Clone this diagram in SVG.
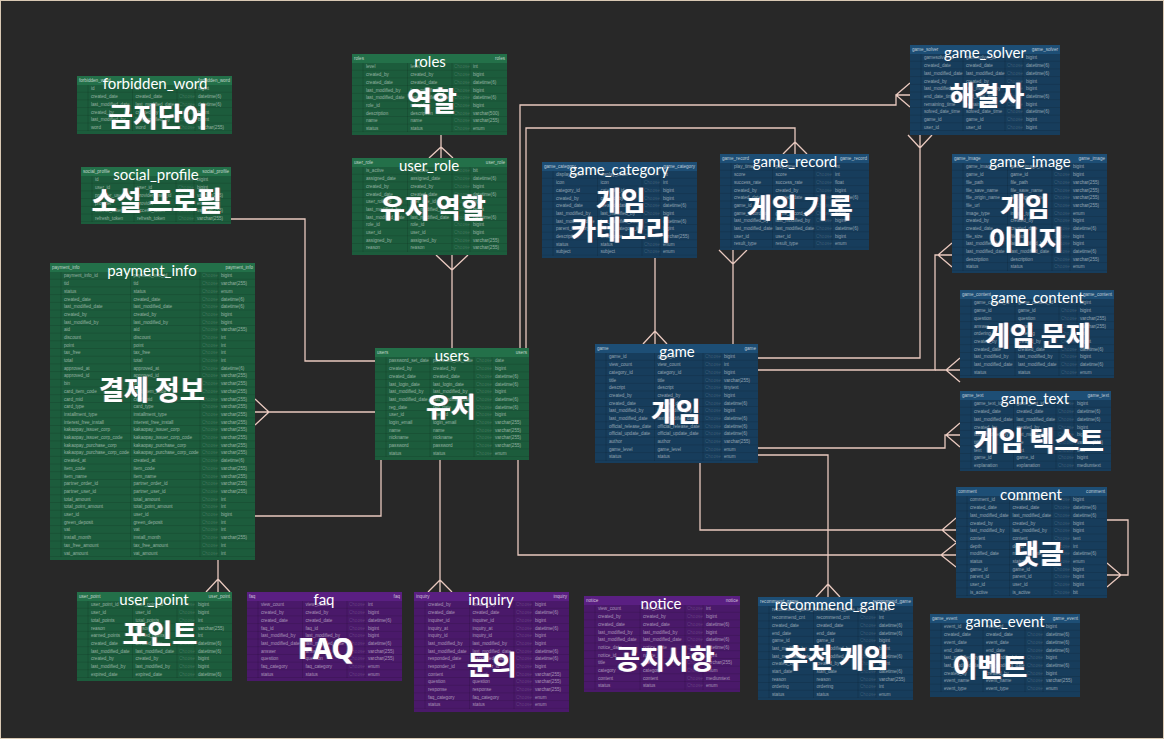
<svg xmlns="http://www.w3.org/2000/svg" xmlns:xlink="http://www.w3.org/1999/xlink" width="1164" height="739" viewBox="0 0 1164 739">
<defs>
<pattern id="rl" width="10" height="7.7" y="9" patternUnits="userSpaceOnUse"><rect y="7.2" width="10" height="0.5" fill="#000" fill-opacity="0.22"/></pattern>
<filter id="fr" x="-10%" y="-10%" width="120%" height="120%">
<feDropShadow dx="-0.8" dy="0" stdDeviation="0.3" flood-color="#38c8ff" flood-opacity="0.7" result="a"/>
<feDropShadow dx="0.8" dy="0" stdDeviation="0.3" flood-color="#ff6a3a" flood-opacity="0.7"/>
</filter>
<style>
.gt{fill:#1c5c3c}.gh{fill:#237049}
.bt{fill:#173d5c}.bh{fill:#1d4e75}
.pt{fill:#4a196a}.ph{fill:#5a1f82}
.rows{fill:url(#rl)}
.cols{stroke:#000;stroke-opacity:.22;stroke-width:.5;fill:none}
.n,.t,.c,.hd{font-family:"Liberation Sans",Arial,sans-serif;font-size:4.6px}
.n,.t{fill:#fff;fill-opacity:.5}
.c{fill:#fff;fill-opacity:.16}
.hd{fill:#fff;fill-opacity:.7}
.ti{font-family:Lato,"Noto Sans",sans-serif;font-size:15px;fill:#fff;text-anchor:middle}
.ko{font-family:"Noto Sans CJK KR","Noto Sans",sans-serif;font-weight:700;font-size:27px;fill:#fff;text-anchor:middle;filter:url(#fr)}
.cn{fill:none;stroke:#e9c9bf;stroke-width:1.3}
</style>
</defs>
<rect width="1164" height="739" fill="#282828"/>
<rect x="0.5" y="0.5" width="1163" height="738" fill="none" stroke="#d9c9b4" stroke-width="1"/>

<g id="connectors" class="cn">
<path d="M441 135V158M429 158L441 147L453 158"/>
<path d="M452 255V348M436 255L452 270L468 255"/>
<path d="M231 219H305V361H375"/>
<path d="M255 412H375M255 399L269 412L255 425"/>
<path d="M381 460V516H218V592M206 592L218 579L230 592"/>
<path d="M440 460V592M428 592L440 580L452 592"/>
<path d="M518 460V555H956M956 543L941 555L956 567"/>
<path d="M520 348V105H896V95H910M910 83L896 95L910 107"/>
<path d="M526 348V128H795V154M783 154L795 142L807 154"/>
<path d="M655 258V344M643 344L655 331L667 344"/>
<path d="M733 250V344M719 250L733 264L747 250"/>
<path d="M758 358H920V135M908 135L920 148L932 135"/>
<path d="M758 370H935V255H952M952 243L938 255L952 267"/>
<path d="M935 370H960M960 358L946 370L960 382"/>
<path d="M758 448H945V435H960M960 423L946 435L960 447"/>
<path d="M700 463V530H956M956 518L942 530L956 542"/>
<path d="M758 455H828V597M816 597L828 584L840 597"/>
<path d="M1107 520H1128V575H1107M1107 563L1121 575L1107 587"/>
</g>

<g id="forbidden_word" transform="translate(77,76)">
<rect class="gt" width="155" height="58"/><rect class="gh" width="155" height="9"/><rect class="rows" y="9" width="155" height="46.2"/>
<path class="cols" d="M11 9V55M55.5 9V55M100 9V55M118 9V55"/>
<text class="hd" x="2" y="6.3">forbidden_word</text><text class="hd" x="153" y="6.3" text-anchor="end">forbidden_word</text>
<text id="fw-n" class="n" y="6.7"><tspan x="14" dy="7.7">id</tspan><tspan x="14" dy="7.7">created_date</tspan><tspan x="14" dy="7.7">last_modified_date</tspan><tspan x="14" dy="7.7">created_by</tspan><tspan x="14" dy="7.7">last_modified_by</tspan><tspan x="14" dy="7.7">word</tspan></text>
<use href="#fw-n" x="44.5"/>
<text class="c" y="6.7"><tspan x="102" dy="7.7">Choose</tspan><tspan x="102" dy="7.7">Choose</tspan><tspan x="102" dy="7.7">Choose</tspan><tspan x="102" dy="7.7">Choose</tspan><tspan x="102" dy="7.7">Choose</tspan><tspan x="102" dy="7.7">Choose</tspan></text>
<text class="t" y="6.7"><tspan x="121" dy="7.7">bigint</tspan><tspan x="121" dy="7.7">datetime(6)</tspan><tspan x="121" dy="7.7">datetime(6)</tspan><tspan x="121" dy="7.7">bigint</tspan><tspan x="121" dy="7.7">bigint</tspan><tspan x="121" dy="7.7">varchar(255)</tspan></text>
<text class="ti" x="78" y="13">forbidden_word</text>
<text class="ko" x="81" y="50.5">금지단어</text>
</g>

<g id="social_profile" transform="translate(81,167)">
<rect class="gt" width="150" height="57"/><rect class="gh" width="150" height="9"/><rect class="rows" y="9" width="150" height="46.2"/>
<path class="cols" d="M11 9V55M53 9V55M95 9V55M113 9V55"/>
<text class="hd" x="2" y="6.3">social_profile</text><text class="hd" x="148" y="6.3" text-anchor="end">social_profile</text>
<text id="sp-n" class="n" y="6.7"><tspan x="14" dy="7.7">id</tspan><tspan x="14" dy="7.7">user_id</tspan><tspan x="14" dy="7.7">provider_user_id</tspan><tspan x="14" dy="7.7">provider</tspan><tspan x="14" dy="7.7">access_token</tspan><tspan x="14" dy="7.7">refresh_token</tspan></text>
<use href="#sp-n" x="42"/>
<text class="c" y="6.7"><tspan x="97" dy="7.7">Choose</tspan><tspan x="97" dy="7.7">Choose</tspan><tspan x="97" dy="7.7">Choose</tspan><tspan x="97" dy="7.7">Choose</tspan><tspan x="97" dy="7.7">Choose</tspan><tspan x="97" dy="7.7">Choose</tspan></text>
<text class="t" y="6.7"><tspan x="116" dy="7.7">bigint</tspan><tspan x="116" dy="7.7">bigint</tspan><tspan x="116" dy="7.7">varchar(255)</tspan><tspan x="116" dy="7.7">enum</tspan><tspan x="116" dy="7.7">varchar(255)</tspan><tspan x="116" dy="7.7">varchar(255)</tspan></text>
<text class="ti" x="75" y="12.5">social_profile</text>
<text class="ko" x="76" y="43.5">소설 프로필</text>
</g>

<g id="roles" transform="translate(352,54)">
<rect class="gt" width="155" height="81"/><rect class="gh" width="155" height="9"/><rect class="rows" y="9" width="155" height="69.3"/>
<path class="cols" d="M11 9V78M55.5 9V78M100 9V78M118 9V78"/>
<text class="hd" x="2" y="6.3">roles</text><text class="hd" x="153" y="6.3" text-anchor="end">roles</text>
<text id="ro-n" class="n" y="6.7"><tspan x="14" dy="7.7">level</tspan><tspan x="14" dy="7.7">created_by</tspan><tspan x="14" dy="7.7">created_date</tspan><tspan x="14" dy="7.7">last_modified_by</tspan><tspan x="14" dy="7.7">last_modified_date</tspan><tspan x="14" dy="7.7">role_id</tspan><tspan x="14" dy="7.7">description</tspan><tspan x="14" dy="7.7">name</tspan><tspan x="14" dy="7.7">status</tspan></text>
<use href="#ro-n" x="44.5"/>
<text class="c" y="6.7"><tspan x="102" dy="7.7">Choose</tspan><tspan x="102" dy="7.7">Choose</tspan><tspan x="102" dy="7.7">Choose</tspan><tspan x="102" dy="7.7">Choose</tspan><tspan x="102" dy="7.7">Choose</tspan><tspan x="102" dy="7.7">Choose</tspan><tspan x="102" dy="7.7">Choose</tspan><tspan x="102" dy="7.7">Choose</tspan><tspan x="102" dy="7.7">Choose</tspan></text>
<text class="t" y="6.7"><tspan x="121" dy="7.7">int</tspan><tspan x="121" dy="7.7">bigint</tspan><tspan x="121" dy="7.7">datetime(6)</tspan><tspan x="121" dy="7.7">bigint</tspan><tspan x="121" dy="7.7">datetime(6)</tspan><tspan x="121" dy="7.7">bigint</tspan><tspan x="121" dy="7.7">varchar(500)</tspan><tspan x="121" dy="7.7">varchar(255)</tspan><tspan x="121" dy="7.7">enum</tspan></text>
<text class="ti" x="78" y="12.5">roles</text>
<text class="ko" x="80" y="56.5">역할</text>
</g>

<g id="user_role" transform="translate(352,158)">
<rect class="gt" width="155" height="97"/><rect class="gh" width="155" height="9"/><rect class="rows" y="9" width="155" height="84.7"/>
<path class="cols" d="M11 9V94M55.5 9V94M100 9V94M118 9V94"/>
<text class="hd" x="2" y="6.3">user_role</text><text class="hd" x="153" y="6.3" text-anchor="end">user_role</text>
<text id="ur-n" class="n" y="6.7"><tspan x="14" dy="7.7">is_active</tspan><tspan x="14" dy="7.7">assigned_date</tspan><tspan x="14" dy="7.7">created_by</tspan><tspan x="14" dy="7.7">created_date</tspan><tspan x="14" dy="7.7">user_role_id</tspan><tspan x="14" dy="7.7">last_modified_by</tspan><tspan x="14" dy="7.7">last_modified_date</tspan><tspan x="14" dy="7.7">role_id</tspan><tspan x="14" dy="7.7">user_id</tspan><tspan x="14" dy="7.7">assigned_by</tspan><tspan x="14" dy="7.7">reason</tspan></text>
<use href="#ur-n" x="44.5"/>
<text class="c" y="6.7"><tspan x="102" dy="7.7">Choose</tspan><tspan x="102" dy="7.7">Choose</tspan><tspan x="102" dy="7.7">Choose</tspan><tspan x="102" dy="7.7">Choose</tspan><tspan x="102" dy="7.7">Choose</tspan><tspan x="102" dy="7.7">Choose</tspan><tspan x="102" dy="7.7">Choose</tspan><tspan x="102" dy="7.7">Choose</tspan><tspan x="102" dy="7.7">Choose</tspan><tspan x="102" dy="7.7">Choose</tspan><tspan x="102" dy="7.7">Choose</tspan></text>
<text class="t" y="6.7"><tspan x="121" dy="7.7">bit</tspan><tspan x="121" dy="7.7">datetime(6)</tspan><tspan x="121" dy="7.7">bigint</tspan><tspan x="121" dy="7.7">datetime(6)</tspan><tspan x="121" dy="7.7">bigint</tspan><tspan x="121" dy="7.7">bigint</tspan><tspan x="121" dy="7.7">datetime(6)</tspan><tspan x="121" dy="7.7">bigint</tspan><tspan x="121" dy="7.7">bigint</tspan><tspan x="121" dy="7.7">varchar(255)</tspan><tspan x="121" dy="7.7">varchar(255)</tspan></text>
<text class="ti" x="77" y="12.5">user_role</text>
<text class="ko" x="81" y="59.5">유저 역할</text>
</g>

<g id="payment_info" transform="translate(50,263)">
<rect class="gt" width="205" height="297"/><rect class="gh" width="205" height="9"/><rect class="rows" y="9" width="205" height="284.9"/>
<path class="cols" d="M11 9V294M80.5 9V294M150 9V294M168 9V294"/>
<text class="hd" x="2" y="6.3">payment_info</text><text class="hd" x="203" y="6.3" text-anchor="end">payment_info</text>
<text id="pi-n" class="n" y="6.7"><tspan x="14" dy="7.7">payment_info_id</tspan><tspan x="14" dy="7.7">tid</tspan><tspan x="14" dy="7.7">status</tspan><tspan x="14" dy="7.7">created_date</tspan><tspan x="14" dy="7.7">last_modified_date</tspan><tspan x="14" dy="7.7">created_by</tspan><tspan x="14" dy="7.7">last_modified_by</tspan><tspan x="14" dy="7.7">aid</tspan><tspan x="14" dy="7.7">discount</tspan><tspan x="14" dy="7.7">point</tspan><tspan x="14" dy="7.7">tax_free</tspan><tspan x="14" dy="7.7">total</tspan><tspan x="14" dy="7.7">approved_at</tspan><tspan x="14" dy="7.7">approved_id</tspan><tspan x="14" dy="7.7">bin</tspan><tspan x="14" dy="7.7">card_item_code</tspan><tspan x="14" dy="7.7">card_mid</tspan><tspan x="14" dy="7.7">card_type</tspan><tspan x="14" dy="7.7">installment_type</tspan><tspan x="14" dy="7.7">interest_free_install</tspan><tspan x="14" dy="7.7">kakaopay_issuer_corp</tspan><tspan x="14" dy="7.7">kakaopay_issuer_corp_code</tspan><tspan x="14" dy="7.7">kakaopay_purchase_corp</tspan><tspan x="14" dy="7.7">kakaopay_purchase_corp_code</tspan><tspan x="14" dy="7.7">created_at</tspan><tspan x="14" dy="7.7">item_code</tspan><tspan x="14" dy="7.7">item_name</tspan><tspan x="14" dy="7.7">partner_order_id</tspan><tspan x="14" dy="7.7">partner_user_id</tspan><tspan x="14" dy="7.7">total_amount</tspan><tspan x="14" dy="7.7">total_point_amount</tspan><tspan x="14" dy="7.7">user_id</tspan><tspan x="14" dy="7.7">green_deposit</tspan><tspan x="14" dy="7.7">vat</tspan><tspan x="14" dy="7.7">install_month</tspan><tspan x="14" dy="7.7">tax_free_amount</tspan><tspan x="14" dy="7.7">vat_amount</tspan></text>
<use href="#pi-n" x="69.5"/>
<text class="c" y="6.7"><tspan x="152" dy="7.7">Choose</tspan><tspan x="152" dy="7.7">Choose</tspan><tspan x="152" dy="7.7">Choose</tspan><tspan x="152" dy="7.7">Choose</tspan><tspan x="152" dy="7.7">Choose</tspan><tspan x="152" dy="7.7">Choose</tspan><tspan x="152" dy="7.7">Choose</tspan><tspan x="152" dy="7.7">Choose</tspan><tspan x="152" dy="7.7">Choose</tspan><tspan x="152" dy="7.7">Choose</tspan><tspan x="152" dy="7.7">Choose</tspan><tspan x="152" dy="7.7">Choose</tspan><tspan x="152" dy="7.7">Choose</tspan><tspan x="152" dy="7.7">Choose</tspan><tspan x="152" dy="7.7">Choose</tspan><tspan x="152" dy="7.7">Choose</tspan><tspan x="152" dy="7.7">Choose</tspan><tspan x="152" dy="7.7">Choose</tspan><tspan x="152" dy="7.7">Choose</tspan><tspan x="152" dy="7.7">Choose</tspan><tspan x="152" dy="7.7">Choose</tspan><tspan x="152" dy="7.7">Choose</tspan><tspan x="152" dy="7.7">Choose</tspan><tspan x="152" dy="7.7">Choose</tspan><tspan x="152" dy="7.7">Choose</tspan><tspan x="152" dy="7.7">Choose</tspan><tspan x="152" dy="7.7">Choose</tspan><tspan x="152" dy="7.7">Choose</tspan><tspan x="152" dy="7.7">Choose</tspan><tspan x="152" dy="7.7">Choose</tspan><tspan x="152" dy="7.7">Choose</tspan><tspan x="152" dy="7.7">Choose</tspan><tspan x="152" dy="7.7">Choose</tspan><tspan x="152" dy="7.7">Choose</tspan><tspan x="152" dy="7.7">Choose</tspan><tspan x="152" dy="7.7">Choose</tspan><tspan x="152" dy="7.7">Choose</tspan></text>
<text class="t" y="6.7"><tspan x="171" dy="7.7">bigint</tspan><tspan x="171" dy="7.7">varchar(255)</tspan><tspan x="171" dy="7.7">enum</tspan><tspan x="171" dy="7.7">datetime(6)</tspan><tspan x="171" dy="7.7">datetime(6)</tspan><tspan x="171" dy="7.7">bigint</tspan><tspan x="171" dy="7.7">bigint</tspan><tspan x="171" dy="7.7">varchar(255)</tspan><tspan x="171" dy="7.7">int</tspan><tspan x="171" dy="7.7">int</tspan><tspan x="171" dy="7.7">int</tspan><tspan x="171" dy="7.7">int</tspan><tspan x="171" dy="7.7">datetime(6)</tspan><tspan x="171" dy="7.7">varchar(255)</tspan><tspan x="171" dy="7.7">varchar(255)</tspan><tspan x="171" dy="7.7">varchar(255)</tspan><tspan x="171" dy="7.7">varchar(255)</tspan><tspan x="171" dy="7.7">varchar(255)</tspan><tspan x="171" dy="7.7">varchar(255)</tspan><tspan x="171" dy="7.7">varchar(255)</tspan><tspan x="171" dy="7.7">varchar(255)</tspan><tspan x="171" dy="7.7">varchar(255)</tspan><tspan x="171" dy="7.7">varchar(255)</tspan><tspan x="171" dy="7.7">varchar(255)</tspan><tspan x="171" dy="7.7">datetime(6)</tspan><tspan x="171" dy="7.7">varchar(255)</tspan><tspan x="171" dy="7.7">varchar(255)</tspan><tspan x="171" dy="7.7">varchar(255)</tspan><tspan x="171" dy="7.7">varchar(255)</tspan><tspan x="171" dy="7.7">int</tspan><tspan x="171" dy="7.7">int</tspan><tspan x="171" dy="7.7">bigint</tspan><tspan x="171" dy="7.7">int</tspan><tspan x="171" dy="7.7">int</tspan><tspan x="171" dy="7.7">varchar(255)</tspan><tspan x="171" dy="7.7">int</tspan><tspan x="171" dy="7.7">int</tspan></text>
<text class="ti" x="102" y="12.5">payment_info</text>
<text class="ko" x="102" y="136.5">결제 정보</text>
</g>

<g id="users" transform="translate(375,348)">
<rect class="gt" width="154" height="112"/><rect class="gh" width="154" height="9"/><rect class="rows" y="9" width="154" height="100.1"/>
<path class="cols" d="M11 9V109M55 9V109M99 9V109M117 9V109"/>
<text class="hd" x="2" y="6.3">users</text><text class="hd" x="152" y="6.3" text-anchor="end">users</text>
<text id="us-n" class="n" y="6.7"><tspan x="14" dy="7.7">password_set_date</tspan><tspan x="14" dy="7.7">created_by</tspan><tspan x="14" dy="7.7">created_date</tspan><tspan x="14" dy="7.7">last_login_date</tspan><tspan x="14" dy="7.7">last_modified_by</tspan><tspan x="14" dy="7.7">last_modified_date</tspan><tspan x="14" dy="7.7">reg_date</tspan><tspan x="14" dy="7.7">user_id</tspan><tspan x="14" dy="7.7">login_email</tspan><tspan x="14" dy="7.7">name</tspan><tspan x="14" dy="7.7">nickname</tspan><tspan x="14" dy="7.7">password</tspan><tspan x="14" dy="7.7">status</tspan></text>
<use href="#us-n" x="44"/>
<text class="c" y="6.7"><tspan x="101" dy="7.7">Choose</tspan><tspan x="101" dy="7.7">Choose</tspan><tspan x="101" dy="7.7">Choose</tspan><tspan x="101" dy="7.7">Choose</tspan><tspan x="101" dy="7.7">Choose</tspan><tspan x="101" dy="7.7">Choose</tspan><tspan x="101" dy="7.7">Choose</tspan><tspan x="101" dy="7.7">Choose</tspan><tspan x="101" dy="7.7">Choose</tspan><tspan x="101" dy="7.7">Choose</tspan><tspan x="101" dy="7.7">Choose</tspan><tspan x="101" dy="7.7">Choose</tspan><tspan x="101" dy="7.7">Choose</tspan></text>
<text class="t" y="6.7"><tspan x="120" dy="7.7">date</tspan><tspan x="120" dy="7.7">bigint</tspan><tspan x="120" dy="7.7">datetime(6)</tspan><tspan x="120" dy="7.7">datetime(6)</tspan><tspan x="120" dy="7.7">bigint</tspan><tspan x="120" dy="7.7">datetime(6)</tspan><tspan x="120" dy="7.7">datetime(6)</tspan><tspan x="120" dy="7.7">bigint</tspan><tspan x="120" dy="7.7">varchar(255)</tspan><tspan x="120" dy="7.7">varchar(255)</tspan><tspan x="120" dy="7.7">varchar(255)</tspan><tspan x="120" dy="7.7">varchar(255)</tspan><tspan x="120" dy="7.7">enum</tspan></text>
<text class="ti" x="77" y="12.5">users</text>
<text class="ko" x="76" y="68.5">유저</text>
</g>

<g id="user_point" transform="translate(77,592)">
<rect class="gt" width="155" height="89"/><rect class="gh" width="155" height="9"/><rect class="rows" y="9" width="155" height="77"/>
<path class="cols" d="M11 9V86M55.5 9V86M100 9V86M118 9V86"/>
<text class="hd" x="2" y="6.3">user_point</text><text class="hd" x="153" y="6.3" text-anchor="end">user_point</text>
<text id="up-n" class="n" y="6.7"><tspan x="14" dy="7.7">user_point_id</tspan><tspan x="14" dy="7.7">user_id</tspan><tspan x="14" dy="7.7">total_points</tspan><tspan x="14" dy="7.7">reason</tspan><tspan x="14" dy="7.7">earned_points</tspan><tspan x="14" dy="7.7">created_date</tspan><tspan x="14" dy="7.7">last_modified_date</tspan><tspan x="14" dy="7.7">created_by</tspan><tspan x="14" dy="7.7">last_modified_by</tspan><tspan x="14" dy="7.7">expired_date</tspan></text>
<use href="#up-n" x="44.5"/>
<text class="c" y="6.7"><tspan x="102" dy="7.7">Choose</tspan><tspan x="102" dy="7.7">Choose</tspan><tspan x="102" dy="7.7">Choose</tspan><tspan x="102" dy="7.7">Choose</tspan><tspan x="102" dy="7.7">Choose</tspan><tspan x="102" dy="7.7">Choose</tspan><tspan x="102" dy="7.7">Choose</tspan><tspan x="102" dy="7.7">Choose</tspan><tspan x="102" dy="7.7">Choose</tspan><tspan x="102" dy="7.7">Choose</tspan></text>
<text class="t" y="6.7"><tspan x="121" dy="7.7">bigint</tspan><tspan x="121" dy="7.7">bigint</tspan><tspan x="121" dy="7.7">int</tspan><tspan x="121" dy="7.7">varchar(255)</tspan><tspan x="121" dy="7.7">int</tspan><tspan x="121" dy="7.7">datetime(6)</tspan><tspan x="121" dy="7.7">datetime(6)</tspan><tspan x="121" dy="7.7">bigint</tspan><tspan x="121" dy="7.7">bigint</tspan><tspan x="121" dy="7.7">datetime(6)</tspan></text>
<text class="ti" x="77" y="12.5">user_point</text>
<text class="ko" x="83" y="51.5">포인트</text>
</g>

<g id="faq" transform="translate(247,592)">
<rect class="pt" width="155" height="89"/><rect class="ph" width="155" height="9"/><rect class="rows" y="9" width="155" height="77"/>
<path class="cols" d="M11 9V86M55.5 9V86M100 9V86M118 9V86"/>
<text class="hd" x="2" y="6.3">faq</text><text class="hd" x="153" y="6.3" text-anchor="end">faq</text>
<text id="fq-n" class="n" y="6.7"><tspan x="14" dy="7.7">view_count</tspan><tspan x="14" dy="7.7">created_by</tspan><tspan x="14" dy="7.7">created_date</tspan><tspan x="14" dy="7.7">faq_id</tspan><tspan x="14" dy="7.7">last_modified_by</tspan><tspan x="14" dy="7.7">last_modified_date</tspan><tspan x="14" dy="7.7">answer</tspan><tspan x="14" dy="7.7">question</tspan><tspan x="14" dy="7.7">faq_category</tspan><tspan x="14" dy="7.7">status</tspan></text>
<use href="#fq-n" x="44.5"/>
<text class="c" y="6.7"><tspan x="102" dy="7.7">Choose</tspan><tspan x="102" dy="7.7">Choose</tspan><tspan x="102" dy="7.7">Choose</tspan><tspan x="102" dy="7.7">Choose</tspan><tspan x="102" dy="7.7">Choose</tspan><tspan x="102" dy="7.7">Choose</tspan><tspan x="102" dy="7.7">Choose</tspan><tspan x="102" dy="7.7">Choose</tspan><tspan x="102" dy="7.7">Choose</tspan><tspan x="102" dy="7.7">Choose</tspan></text>
<text class="t" y="6.7"><tspan x="121" dy="7.7">int</tspan><tspan x="121" dy="7.7">bigint</tspan><tspan x="121" dy="7.7">datetime(6)</tspan><tspan x="121" dy="7.7">bigint</tspan><tspan x="121" dy="7.7">bigint</tspan><tspan x="121" dy="7.7">datetime(6)</tspan><tspan x="121" dy="7.7">varchar(255)</tspan><tspan x="121" dy="7.7">varchar(255)</tspan><tspan x="121" dy="7.7">enum</tspan><tspan x="121" dy="7.7">enum</tspan></text>
<text class="ti" x="77" y="12.5">faq</text>
<text class="ko" x="79" y="67" style="font-family:'Noto Sans',sans-serif;font-size:28px">FAQ</text>
</g>

<g id="inquiry" transform="translate(414,592)">
<rect class="pt" width="155" height="120"/><rect class="ph" width="155" height="9"/><rect class="rows" y="9" width="155" height="107.8"/>
<path class="cols" d="M11 9V117M55.5 9V117M100 9V117M118 9V117"/>
<text class="hd" x="2" y="6.3">inquiry</text><text class="hd" x="153" y="6.3" text-anchor="end">inquiry</text>
<text id="iq-n" class="n" y="6.7"><tspan x="14" dy="7.7">created_by</tspan><tspan x="14" dy="7.7">created_date</tspan><tspan x="14" dy="7.7">inquirer_id</tspan><tspan x="14" dy="7.7">inquiry_at</tspan><tspan x="14" dy="7.7">inquiry_id</tspan><tspan x="14" dy="7.7">last_modified_by</tspan><tspan x="14" dy="7.7">last_modified_date</tspan><tspan x="14" dy="7.7">responded_date</tspan><tspan x="14" dy="7.7">responder_id</tspan><tspan x="14" dy="7.7">content</tspan><tspan x="14" dy="7.7">question</tspan><tspan x="14" dy="7.7">response</tspan><tspan x="14" dy="7.7">faq_category</tspan><tspan x="14" dy="7.7">status</tspan></text>
<use href="#iq-n" x="44.5"/>
<text class="c" y="6.7"><tspan x="102" dy="7.7">Choose</tspan><tspan x="102" dy="7.7">Choose</tspan><tspan x="102" dy="7.7">Choose</tspan><tspan x="102" dy="7.7">Choose</tspan><tspan x="102" dy="7.7">Choose</tspan><tspan x="102" dy="7.7">Choose</tspan><tspan x="102" dy="7.7">Choose</tspan><tspan x="102" dy="7.7">Choose</tspan><tspan x="102" dy="7.7">Choose</tspan><tspan x="102" dy="7.7">Choose</tspan><tspan x="102" dy="7.7">Choose</tspan><tspan x="102" dy="7.7">Choose</tspan><tspan x="102" dy="7.7">Choose</tspan><tspan x="102" dy="7.7">Choose</tspan></text>
<text class="t" y="6.7"><tspan x="121" dy="7.7">bigint</tspan><tspan x="121" dy="7.7">datetime(6)</tspan><tspan x="121" dy="7.7">bigint</tspan><tspan x="121" dy="7.7">datetime(6)</tspan><tspan x="121" dy="7.7">bigint</tspan><tspan x="121" dy="7.7">bigint</tspan><tspan x="121" dy="7.7">datetime(6)</tspan><tspan x="121" dy="7.7">datetime(6)</tspan><tspan x="121" dy="7.7">bigint</tspan><tspan x="121" dy="7.7">varchar(255)</tspan><tspan x="121" dy="7.7">varchar(255)</tspan><tspan x="121" dy="7.7">varchar(255)</tspan><tspan x="121" dy="7.7">enum</tspan><tspan x="121" dy="7.7">enum</tspan></text>
<text class="ti" x="77" y="12.5">inquiry</text>
<text class="ko" x="78" y="82.5">문의</text>
</g>

<g id="notice" transform="translate(584,596)">
<rect class="pt" width="156" height="96"/><rect class="ph" width="156" height="9"/><rect class="rows" y="9" width="156" height="84.7"/>
<path class="cols" d="M11 9V94M56 9V94M101 9V94M119 9V94"/>
<text class="hd" x="2" y="6.3">notice</text><text class="hd" x="154" y="6.3" text-anchor="end">notice</text>
<text id="no-n" class="n" y="6.7"><tspan x="14" dy="7.7">view_count</tspan><tspan x="14" dy="7.7">created_by</tspan><tspan x="14" dy="7.7">created_date</tspan><tspan x="14" dy="7.7">last_modified_by</tspan><tspan x="14" dy="7.7">last_modified_date</tspan><tspan x="14" dy="7.7">notice_date</tspan><tspan x="14" dy="7.7">notice_id</tspan><tspan x="14" dy="7.7">title</tspan><tspan x="14" dy="7.7">category</tspan><tspan x="14" dy="7.7">content</tspan><tspan x="14" dy="7.7">status</tspan></text>
<use href="#no-n" x="45"/>
<text class="c" y="6.7"><tspan x="103" dy="7.7">Choose</tspan><tspan x="103" dy="7.7">Choose</tspan><tspan x="103" dy="7.7">Choose</tspan><tspan x="103" dy="7.7">Choose</tspan><tspan x="103" dy="7.7">Choose</tspan><tspan x="103" dy="7.7">Choose</tspan><tspan x="103" dy="7.7">Choose</tspan><tspan x="103" dy="7.7">Choose</tspan><tspan x="103" dy="7.7">Choose</tspan><tspan x="103" dy="7.7">Choose</tspan><tspan x="103" dy="7.7">Choose</tspan></text>
<text class="t" y="6.7"><tspan x="122" dy="7.7">int</tspan><tspan x="122" dy="7.7">bigint</tspan><tspan x="122" dy="7.7">datetime(6)</tspan><tspan x="122" dy="7.7">bigint</tspan><tspan x="122" dy="7.7">datetime(6)</tspan><tspan x="122" dy="7.7">datetime(6)</tspan><tspan x="122" dy="7.7">bigint</tspan><tspan x="122" dy="7.7">varchar(255)</tspan><tspan x="122" dy="7.7">enum</tspan><tspan x="122" dy="7.7">mediumtext</tspan><tspan x="122" dy="7.7">enum</tspan></text>
<text class="ti" x="77" y="12.5">notice</text>
<text class="ko" x="81" y="72.5">공지사항</text>
</g>

<g id="recommend_game" transform="translate(758,597)">
<rect class="bt" width="155" height="103"/><rect class="bh" width="155" height="9"/><rect class="rows" y="9" width="155" height="92.4"/>
<path class="cols" d="M11 9V101M55.5 9V101M100 9V101M118 9V101"/>
<text class="hd" x="2" y="6.3">recommend_game</text><text class="hd" x="153" y="6.3" text-anchor="end">recommend_game</text>
<text id="rg-n" class="n" y="6.7"><tspan x="14" dy="7.7">recommend_game_id</tspan><tspan x="14" dy="7.7">recommend_cnt</tspan><tspan x="14" dy="7.7">created_date</tspan><tspan x="14" dy="7.7">end_date</tspan><tspan x="14" dy="7.7">game_id</tspan><tspan x="14" dy="7.7">last_modified_by</tspan><tspan x="14" dy="7.7">last_modified_date</tspan><tspan x="14" dy="7.7">created_by</tspan><tspan x="14" dy="7.7">start_date</tspan><tspan x="14" dy="7.7">reason</tspan><tspan x="14" dy="7.7">ordering</tspan><tspan x="14" dy="7.7">status</tspan></text>
<use href="#rg-n" x="44.5"/>
<text class="c" y="6.7"><tspan x="102" dy="7.7">Choose</tspan><tspan x="102" dy="7.7">Choose</tspan><tspan x="102" dy="7.7">Choose</tspan><tspan x="102" dy="7.7">Choose</tspan><tspan x="102" dy="7.7">Choose</tspan><tspan x="102" dy="7.7">Choose</tspan><tspan x="102" dy="7.7">Choose</tspan><tspan x="102" dy="7.7">Choose</tspan><tspan x="102" dy="7.7">Choose</tspan><tspan x="102" dy="7.7">Choose</tspan><tspan x="102" dy="7.7">Choose</tspan><tspan x="102" dy="7.7">Choose</tspan></text>
<text class="t" y="6.7"><tspan x="121" dy="7.7">bigint</tspan><tspan x="121" dy="7.7">int</tspan><tspan x="121" dy="7.7">datetime(6)</tspan><tspan x="121" dy="7.7">datetime(6)</tspan><tspan x="121" dy="7.7">bigint</tspan><tspan x="121" dy="7.7">bigint</tspan><tspan x="121" dy="7.7">datetime(6)</tspan><tspan x="121" dy="7.7">bigint</tspan><tspan x="121" dy="7.7">datetime(6)</tspan><tspan x="121" dy="7.7">varchar(255)</tspan><tspan x="121" dy="7.7">int</tspan><tspan x="121" dy="7.7">enum</tspan></text>
<text class="ti" x="77" y="12.5">recommend_game</text>
<text class="ko" x="78" y="70.5">추천 게임</text>
</g>

<g id="game_event" transform="translate(930,614)">
<rect class="bt" width="150" height="83"/><rect class="bh" width="150" height="9"/><rect class="rows" y="9" width="150" height="69.3"/>
<path class="cols" d="M11 9V78M53 9V78M95 9V78M113 9V78"/>
<text class="hd" x="2" y="6.3">game_event</text><text class="hd" x="148" y="6.3" text-anchor="end">game_event</text>
<text id="ge-n" class="n" y="6.7"><tspan x="14" dy="7.7">event_id</tspan><tspan x="14" dy="7.7">created_date</tspan><tspan x="14" dy="7.7">event_date</tspan><tspan x="14" dy="7.7">end_date</tspan><tspan x="14" dy="7.7">last_modified_by</tspan><tspan x="14" dy="7.7">last_modified_date</tspan><tspan x="14" dy="7.7">created_by</tspan><tspan x="14" dy="7.7">event_name</tspan><tspan x="14" dy="7.7">event_type</tspan></text>
<use href="#ge-n" x="42"/>
<text class="c" y="6.7"><tspan x="97" dy="7.7">Choose</tspan><tspan x="97" dy="7.7">Choose</tspan><tspan x="97" dy="7.7">Choose</tspan><tspan x="97" dy="7.7">Choose</tspan><tspan x="97" dy="7.7">Choose</tspan><tspan x="97" dy="7.7">Choose</tspan><tspan x="97" dy="7.7">Choose</tspan><tspan x="97" dy="7.7">Choose</tspan><tspan x="97" dy="7.7">Choose</tspan></text>
<text class="t" y="6.7"><tspan x="116" dy="7.7">bigint</tspan><tspan x="116" dy="7.7">datetime(6)</tspan><tspan x="116" dy="7.7">datetime(6)</tspan><tspan x="116" dy="7.7">datetime(6)</tspan><tspan x="116" dy="7.7">bigint</tspan><tspan x="116" dy="7.7">datetime(6)</tspan><tspan x="116" dy="7.7">bigint</tspan><tspan x="116" dy="7.7">varchar(255)</tspan><tspan x="116" dy="7.7">enum</tspan></text>
<text class="ti" x="75" y="12.5">game_event</text>
<text class="ko" x="60" y="62.5">이벤트</text>
</g>

<g id="game_category" transform="translate(542,162)">
<rect class="bt" width="155" height="96"/><rect class="bh" width="155" height="9"/><rect class="rows" y="9" width="155" height="84.7"/>
<path class="cols" d="M11 9V94M55.5 9V94M100 9V94M118 9V94"/>
<text class="hd" x="2" y="6.3">game_category</text><text class="hd" x="153" y="6.3" text-anchor="end">game_category</text>
<text id="gc-n" class="n" y="6.7"><tspan x="14" dy="7.7">display_order</tspan><tspan x="14" dy="7.7">icon</tspan><tspan x="14" dy="7.7">category_id</tspan><tspan x="14" dy="7.7">created_by</tspan><tspan x="14" dy="7.7">created_date</tspan><tspan x="14" dy="7.7">last_modified_by</tspan><tspan x="14" dy="7.7">last_modified_date</tspan><tspan x="14" dy="7.7">parent_category_id</tspan><tspan x="14" dy="7.7">description</tspan><tspan x="14" dy="7.7">status</tspan><tspan x="14" dy="7.7">subject</tspan></text>
<use href="#gc-n" x="44.5"/>
<text class="c" y="6.7"><tspan x="102" dy="7.7">Choose</tspan><tspan x="102" dy="7.7">Choose</tspan><tspan x="102" dy="7.7">Choose</tspan><tspan x="102" dy="7.7">Choose</tspan><tspan x="102" dy="7.7">Choose</tspan><tspan x="102" dy="7.7">Choose</tspan><tspan x="102" dy="7.7">Choose</tspan><tspan x="102" dy="7.7">Choose</tspan><tspan x="102" dy="7.7">Choose</tspan><tspan x="102" dy="7.7">Choose</tspan><tspan x="102" dy="7.7">Choose</tspan></text>
<text class="t" y="6.7"><tspan x="121" dy="7.7">int</tspan><tspan x="121" dy="7.7">int</tspan><tspan x="121" dy="7.7">bigint</tspan><tspan x="121" dy="7.7">bigint</tspan><tspan x="121" dy="7.7">datetime(6)</tspan><tspan x="121" dy="7.7">bigint</tspan><tspan x="121" dy="7.7">datetime(6)</tspan><tspan x="121" dy="7.7">bigint</tspan><tspan x="121" dy="7.7">varchar(255)</tspan><tspan x="121" dy="7.7">enum</tspan><tspan x="121" dy="7.7">enum</tspan></text>
<text class="ti" x="77" y="12.5">game_category</text>
<text class="ko" x="79" y="48.5">게임</text>
<text class="ko" x="79" y="77.5">카테고리</text>
</g>

<g id="game_record" transform="translate(720,154)">
<rect class="bt" width="149" height="96"/><rect class="bh" width="149" height="9"/><rect class="rows" y="9" width="149" height="84.7"/>
<path class="cols" d="M11 9V94M52.5 9V94M94 9V94M112 9V94"/>
<text class="hd" x="2" y="6.3">game_record</text><text class="hd" x="147" y="6.3" text-anchor="end">game_record</text>
<text id="gr-n" class="n" y="6.7"><tspan x="14" dy="7.7">play_time</tspan><tspan x="14" dy="7.7">score</tspan><tspan x="14" dy="7.7">success_rate</tspan><tspan x="14" dy="7.7">created_by</tspan><tspan x="14" dy="7.7">created_date</tspan><tspan x="14" dy="7.7">game_id</tspan><tspan x="14" dy="7.7">game_record_id</tspan><tspan x="14" dy="7.7">last_modified_by</tspan><tspan x="14" dy="7.7">last_modified_date</tspan><tspan x="14" dy="7.7">user_id</tspan><tspan x="14" dy="7.7">result_type</tspan></text>
<use href="#gr-n" x="41.5"/>
<text class="c" y="6.7"><tspan x="96" dy="7.7">Choose</tspan><tspan x="96" dy="7.7">Choose</tspan><tspan x="96" dy="7.7">Choose</tspan><tspan x="96" dy="7.7">Choose</tspan><tspan x="96" dy="7.7">Choose</tspan><tspan x="96" dy="7.7">Choose</tspan><tspan x="96" dy="7.7">Choose</tspan><tspan x="96" dy="7.7">Choose</tspan><tspan x="96" dy="7.7">Choose</tspan><tspan x="96" dy="7.7">Choose</tspan><tspan x="96" dy="7.7">Choose</tspan></text>
<text class="t" y="6.7"><tspan x="115" dy="7.7">int</tspan><tspan x="115" dy="7.7">int</tspan><tspan x="115" dy="7.7">float</tspan><tspan x="115" dy="7.7">bigint</tspan><tspan x="115" dy="7.7">datetime(6)</tspan><tspan x="115" dy="7.7">bigint</tspan><tspan x="115" dy="7.7">bigint</tspan><tspan x="115" dy="7.7">bigint</tspan><tspan x="115" dy="7.7">datetime(6)</tspan><tspan x="115" dy="7.7">bigint</tspan><tspan x="115" dy="7.7">enum</tspan></text>
<text class="ti" x="75" y="12.5">game_record</text>
<text class="ko" x="80" y="63.5">게임 기록</text>
</g>

<g id="game_solver" transform="translate(910,45)">
<rect class="bt" width="150" height="90"/><rect class="bh" width="150" height="9"/><rect class="rows" y="9" width="150" height="77"/>
<path class="cols" d="M11 9V86M53 9V86M95 9V86M113 9V86"/>
<text class="hd" x="2" y="6.3">game_solver</text><text class="hd" x="148" y="6.3" text-anchor="end">game_solver</text>
<text id="gs-n" class="n" y="6.7"><tspan x="14" dy="7.7">gamesolver_id</tspan><tspan x="14" dy="7.7">created_date</tspan><tspan x="14" dy="7.7">last_modified_date</tspan><tspan x="14" dy="7.7">created_by</tspan><tspan x="14" dy="7.7">last_modified_by</tspan><tspan x="14" dy="7.7">end_date_time</tspan><tspan x="14" dy="7.7">remaining_time</tspan><tspan x="14" dy="7.7">solved_date_time</tspan><tspan x="14" dy="7.7">game_id</tspan><tspan x="14" dy="7.7">user_id</tspan></text>
<use href="#gs-n" x="42"/>
<text class="c" y="6.7"><tspan x="97" dy="7.7">Choose</tspan><tspan x="97" dy="7.7">Choose</tspan><tspan x="97" dy="7.7">Choose</tspan><tspan x="97" dy="7.7">Choose</tspan><tspan x="97" dy="7.7">Choose</tspan><tspan x="97" dy="7.7">Choose</tspan><tspan x="97" dy="7.7">Choose</tspan><tspan x="97" dy="7.7">Choose</tspan><tspan x="97" dy="7.7">Choose</tspan><tspan x="97" dy="7.7">Choose</tspan></text>
<text class="t" y="6.7"><tspan x="116" dy="7.7">bigint</tspan><tspan x="116" dy="7.7">datetime(6)</tspan><tspan x="116" dy="7.7">datetime(6)</tspan><tspan x="116" dy="7.7">bigint</tspan><tspan x="116" dy="7.7">bigint</tspan><tspan x="116" dy="7.7">datetime(6)</tspan><tspan x="116" dy="7.7">bigint</tspan><tspan x="116" dy="7.7">datetime(6)</tspan><tspan x="116" dy="7.7">bigint</tspan><tspan x="116" dy="7.7">bigint</tspan></text>
<text class="ti" x="75" y="12.5">game_solver</text>
<text class="ko" x="77" y="60.5">해결자</text>
</g>

<g id="game_image" transform="translate(952,154)">
<rect class="bt" width="155" height="119"/><rect class="bh" width="155" height="9"/><rect class="rows" y="9" width="155" height="107.8"/>
<path class="cols" d="M11 9V117M55.5 9V117M100 9V117M118 9V117"/>
<text class="hd" x="2" y="6.3">game_image</text><text class="hd" x="153" y="6.3" text-anchor="end">game_image</text>
<text id="gi-n" class="n" y="6.7"><tspan x="14" dy="7.7">game_image_id</tspan><tspan x="14" dy="7.7">game_id</tspan><tspan x="14" dy="7.7">file_path</tspan><tspan x="14" dy="7.7">file_save_name</tspan><tspan x="14" dy="7.7">file_origin_name</tspan><tspan x="14" dy="7.7">file_url</tspan><tspan x="14" dy="7.7">image_type</tspan><tspan x="14" dy="7.7">created_by</tspan><tspan x="14" dy="7.7">created_date</tspan><tspan x="14" dy="7.7">file_size</tspan><tspan x="14" dy="7.7">last_modified_by</tspan><tspan x="14" dy="7.7">last_modified_date</tspan><tspan x="14" dy="7.7">description</tspan><tspan x="14" dy="7.7">status</tspan></text>
<use href="#gi-n" x="44.5"/>
<text class="c" y="6.7"><tspan x="102" dy="7.7">Choose</tspan><tspan x="102" dy="7.7">Choose</tspan><tspan x="102" dy="7.7">Choose</tspan><tspan x="102" dy="7.7">Choose</tspan><tspan x="102" dy="7.7">Choose</tspan><tspan x="102" dy="7.7">Choose</tspan><tspan x="102" dy="7.7">Choose</tspan><tspan x="102" dy="7.7">Choose</tspan><tspan x="102" dy="7.7">Choose</tspan><tspan x="102" dy="7.7">Choose</tspan><tspan x="102" dy="7.7">Choose</tspan><tspan x="102" dy="7.7">Choose</tspan><tspan x="102" dy="7.7">Choose</tspan><tspan x="102" dy="7.7">Choose</tspan></text>
<text class="t" y="6.7"><tspan x="121" dy="7.7">bigint</tspan><tspan x="121" dy="7.7">bigint</tspan><tspan x="121" dy="7.7">varchar(255)</tspan><tspan x="121" dy="7.7">varchar(255)</tspan><tspan x="121" dy="7.7">varchar(255)</tspan><tspan x="121" dy="7.7">varchar(255)</tspan><tspan x="121" dy="7.7">enum</tspan><tspan x="121" dy="7.7">bigint</tspan><tspan x="121" dy="7.7">datetime(6)</tspan><tspan x="121" dy="7.7">bigint</tspan><tspan x="121" dy="7.7">bigint</tspan><tspan x="121" dy="7.7">datetime(6)</tspan><tspan x="121" dy="7.7">varchar(255)</tspan><tspan x="121" dy="7.7">enum</tspan></text>
<text class="ti" x="78" y="12.5">game_image</text>
<text class="ko" x="73" y="62.5">게임</text>
<text class="ko" x="74" y="95.5">이미지</text>
</g>

<g id="game_content" transform="translate(960,290)">
<rect class="bt" width="154" height="88"/><rect class="bh" width="154" height="9"/><rect class="rows" y="9" width="154" height="77"/>
<path class="cols" d="M11 9V86M55 9V86M99 9V86M117 9V86"/>
<text class="hd" x="2" y="6.3">game_content</text><text class="hd" x="152" y="6.3" text-anchor="end">game_content</text>
<text id="gt-n" class="n" y="6.7"><tspan x="14" dy="7.7">game_content_id</tspan><tspan x="14" dy="7.7">game_id</tspan><tspan x="14" dy="7.7">question</tspan><tspan x="14" dy="7.7">answer</tspan><tspan x="14" dy="7.7">ordering</tspan><tspan x="14" dy="7.7">created_by</tspan><tspan x="14" dy="7.7">created_date</tspan><tspan x="14" dy="7.7">last_modified_by</tspan><tspan x="14" dy="7.7">last_modified_date</tspan><tspan x="14" dy="7.7">status</tspan></text>
<use href="#gt-n" x="44"/>
<text class="c" y="6.7"><tspan x="101" dy="7.7">Choose</tspan><tspan x="101" dy="7.7">Choose</tspan><tspan x="101" dy="7.7">Choose</tspan><tspan x="101" dy="7.7">Choose</tspan><tspan x="101" dy="7.7">Choose</tspan><tspan x="101" dy="7.7">Choose</tspan><tspan x="101" dy="7.7">Choose</tspan><tspan x="101" dy="7.7">Choose</tspan><tspan x="101" dy="7.7">Choose</tspan><tspan x="101" dy="7.7">Choose</tspan></text>
<text class="t" y="6.7"><tspan x="120" dy="7.7">bigint</tspan><tspan x="120" dy="7.7">bigint</tspan><tspan x="120" dy="7.7">varchar(255)</tspan><tspan x="120" dy="7.7">varchar(255)</tspan><tspan x="120" dy="7.7">int</tspan><tspan x="120" dy="7.7">bigint</tspan><tspan x="120" dy="7.7">datetime(6)</tspan><tspan x="120" dy="7.7">bigint</tspan><tspan x="120" dy="7.7">datetime(6)</tspan><tspan x="120" dy="7.7">enum</tspan></text>
<text class="ti" x="77" y="12.5">game_content</text>
<text class="ko" x="78" y="55.5">게임 문제</text>
</g>

<g id="game_text" transform="translate(960,391)">
<rect class="bt" width="151" height="80"/><rect class="bh" width="151" height="9"/><rect class="rows" y="9" width="151" height="69.3"/>
<path class="cols" d="M11 9V78M53.5 9V78M96 9V78M114 9V78"/>
<text class="hd" x="2" y="6.3">game_text</text><text class="hd" x="149" y="6.3" text-anchor="end">game_text</text>
<text id="gx-n" class="n" y="6.7"><tspan x="14" dy="7.7">game_text_id</tspan><tspan x="14" dy="7.7">created_date</tspan><tspan x="14" dy="7.7">last_modified_date</tspan><tspan x="14" dy="7.7">created_by</tspan><tspan x="14" dy="7.7">last_modified_by</tspan><tspan x="14" dy="7.7">title</tspan><tspan x="14" dy="7.7">text</tspan><tspan x="14" dy="7.7">game_id</tspan><tspan x="14" dy="7.7">explanation</tspan></text>
<use href="#gx-n" x="42.5"/>
<text class="c" y="6.7"><tspan x="98" dy="7.7">Choose</tspan><tspan x="98" dy="7.7">Choose</tspan><tspan x="98" dy="7.7">Choose</tspan><tspan x="98" dy="7.7">Choose</tspan><tspan x="98" dy="7.7">Choose</tspan><tspan x="98" dy="7.7">Choose</tspan><tspan x="98" dy="7.7">Choose</tspan><tspan x="98" dy="7.7">Choose</tspan><tspan x="98" dy="7.7">Choose</tspan></text>
<text class="t" y="6.7"><tspan x="117" dy="7.7">bigint</tspan><tspan x="117" dy="7.7">datetime(6)</tspan><tspan x="117" dy="7.7">datetime(6)</tspan><tspan x="117" dy="7.7">bigint</tspan><tspan x="117" dy="7.7">bigint</tspan><tspan x="117" dy="7.7">varchar(255)</tspan><tspan x="117" dy="7.7">text</tspan><tspan x="117" dy="7.7">bigint</tspan><tspan x="117" dy="7.7">mediumtext</tspan></text>
<text class="ti" x="75" y="12.5">game_text</text>
<text class="ko" x="79" y="59.5">게임 텍스트</text>
</g>

<g id="game" transform="translate(595,344)">
<rect class="bt" width="163" height="119"/><rect class="bh" width="163" height="9"/><rect class="rows" y="9" width="163" height="107.8"/>
<path class="cols" d="M11 9V117M59.5 9V117M108 9V117M126 9V117"/>
<text class="hd" x="2" y="6.3">game</text><text class="hd" x="161" y="6.3" text-anchor="end">game</text>
<text id="gm-n" class="n" y="6.7"><tspan x="14" dy="7.7">game_id</tspan><tspan x="14" dy="7.7">view_count</tspan><tspan x="14" dy="7.7">category_id</tspan><tspan x="14" dy="7.7">title</tspan><tspan x="14" dy="7.7">descript</tspan><tspan x="14" dy="7.7">created_by</tspan><tspan x="14" dy="7.7">created_date</tspan><tspan x="14" dy="7.7">last_modified_by</tspan><tspan x="14" dy="7.7">last_modified_date</tspan><tspan x="14" dy="7.7">official_release_date</tspan><tspan x="14" dy="7.7">official_update_date</tspan><tspan x="14" dy="7.7">author</tspan><tspan x="14" dy="7.7">game_level</tspan><tspan x="14" dy="7.7">status</tspan></text>
<use href="#gm-n" x="48.5"/>
<text class="c" y="6.7"><tspan x="110" dy="7.7">Choose</tspan><tspan x="110" dy="7.7">Choose</tspan><tspan x="110" dy="7.7">Choose</tspan><tspan x="110" dy="7.7">Choose</tspan><tspan x="110" dy="7.7">Choose</tspan><tspan x="110" dy="7.7">Choose</tspan><tspan x="110" dy="7.7">Choose</tspan><tspan x="110" dy="7.7">Choose</tspan><tspan x="110" dy="7.7">Choose</tspan><tspan x="110" dy="7.7">Choose</tspan><tspan x="110" dy="7.7">Choose</tspan><tspan x="110" dy="7.7">Choose</tspan><tspan x="110" dy="7.7">Choose</tspan><tspan x="110" dy="7.7">Choose</tspan></text>
<text class="t" y="6.7"><tspan x="129" dy="7.7">bigint</tspan><tspan x="129" dy="7.7">int</tspan><tspan x="129" dy="7.7">bigint</tspan><tspan x="129" dy="7.7">varchar(255)</tspan><tspan x="129" dy="7.7">tinytext</tspan><tspan x="129" dy="7.7">bigint</tspan><tspan x="129" dy="7.7">datetime(6)</tspan><tspan x="129" dy="7.7">bigint</tspan><tspan x="129" dy="7.7">datetime(6)</tspan><tspan x="129" dy="7.7">datetime(6)</tspan><tspan x="129" dy="7.7">datetime(6)</tspan><tspan x="129" dy="7.7">varchar(255)</tspan><tspan x="129" dy="7.7">enum</tspan><tspan x="129" dy="7.7">enum</tspan></text>
<text class="ti" x="82" y="12.5">game</text>
<text class="ko" x="81" y="77.5">게임</text>
</g>

<g id="comment" transform="translate(956,487)">
<rect class="bt" width="151" height="111"/><rect class="bh" width="151" height="9"/><rect class="rows" y="9" width="151" height="100.1"/>
<path class="cols" d="M11 9V109M53.5 9V109M96 9V109M114 9V109"/>
<text class="hd" x="2" y="6.3">comment</text><text class="hd" x="149" y="6.3" text-anchor="end">comment</text>
<text id="cm-n" class="n" y="6.7"><tspan x="14" dy="7.7">comment_id</tspan><tspan x="14" dy="7.7">created_date</tspan><tspan x="14" dy="7.7">last_modified_date</tspan><tspan x="14" dy="7.7">created_by</tspan><tspan x="14" dy="7.7">last_modified_by</tspan><tspan x="14" dy="7.7">content</tspan><tspan x="14" dy="7.7">depth</tspan><tspan x="14" dy="7.7">modified_date</tspan><tspan x="14" dy="7.7">status</tspan><tspan x="14" dy="7.7">game_id</tspan><tspan x="14" dy="7.7">parent_id</tspan><tspan x="14" dy="7.7">user_id</tspan><tspan x="14" dy="7.7">is_active</tspan></text>
<use href="#cm-n" x="42.5"/>
<text class="c" y="6.7"><tspan x="98" dy="7.7">Choose</tspan><tspan x="98" dy="7.7">Choose</tspan><tspan x="98" dy="7.7">Choose</tspan><tspan x="98" dy="7.7">Choose</tspan><tspan x="98" dy="7.7">Choose</tspan><tspan x="98" dy="7.7">Choose</tspan><tspan x="98" dy="7.7">Choose</tspan><tspan x="98" dy="7.7">Choose</tspan><tspan x="98" dy="7.7">Choose</tspan><tspan x="98" dy="7.7">Choose</tspan><tspan x="98" dy="7.7">Choose</tspan><tspan x="98" dy="7.7">Choose</tspan><tspan x="98" dy="7.7">Choose</tspan></text>
<text class="t" y="6.7"><tspan x="117" dy="7.7">bigint</tspan><tspan x="117" dy="7.7">datetime(6)</tspan><tspan x="117" dy="7.7">datetime(6)</tspan><tspan x="117" dy="7.7">bigint</tspan><tspan x="117" dy="7.7">bigint</tspan><tspan x="117" dy="7.7">text</tspan><tspan x="117" dy="7.7">int</tspan><tspan x="117" dy="7.7">datetime(6)</tspan><tspan x="117" dy="7.7">enum</tspan><tspan x="117" dy="7.7">bigint</tspan><tspan x="117" dy="7.7">bigint</tspan><tspan x="117" dy="7.7">bigint</tspan><tspan x="117" dy="7.7">bit</tspan></text>
<text class="ti" x="75" y="12.5">comment</text>
<text class="ko" x="83" y="76.5">댓글</text>
</g>
</svg>
